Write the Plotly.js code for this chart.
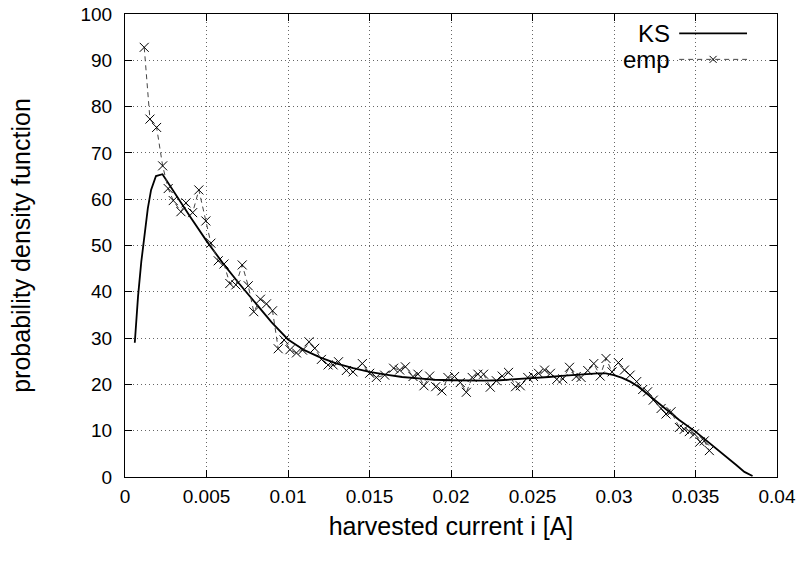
<!DOCTYPE html>
<html>
<head>
<meta charset="utf-8">
<script src="https://cdn.plot.ly/plotly-3.0.1.min.js"></script>
<style>
  html, body { margin: 0; padding: 0; background: #fff; }
  #chart { width: 808px; height: 561px; }
</style>
</head>
<body>
<div id="chart"></div>
<script>
// Kernel-smoothed (KS) density estimate of the harvested current
const ksCurrent = [0.0006, 0.0008, 0.001, 0.0012, 0.0014, 0.0016, 0.0019, 0.0023, 0.003, 0.004,
  0.005, 0.006, 0.007, 0.008, 0.009, 0.010, 0.011, 0.012, 0.013, 0.014, 0.015, 0.016, 0.017,
  0.018, 0.019, 0.020, 0.021, 0.022, 0.023, 0.024, 0.025, 0.026, 0.027, 0.028, 0.029, 0.0295,
  0.030, 0.0305, 0.031, 0.0315, 0.032, 0.033, 0.034, 0.035, 0.036, 0.037, 0.0375, 0.038, 0.0385];
const ksDensity = [29, 39, 46.5, 53, 58, 62, 65, 65.4, 61.5, 56.2,
  51, 46.2, 41.8, 37.6, 33.4, 29.7, 27.4, 25.8, 24.5, 23.5, 22.7, 22.1, 21.6,
  21.3, 21.0, 20.9, 20.8, 20.8, 20.9, 21.1, 21.3, 21.6, 21.9, 22.2, 22.4, 22.4,
  22.0, 21.4, 20.6, 19.5, 18.1, 15.3, 12.3, 9.8, 7.0, 4.1, 2.6, 1.1, 0.2];

// Empirical (histogram-based) density
const empCurrent = [0.00118, 0.00153, 0.00194, 0.00231, 0.00265, 0.00296, 0.00343, 0.00374, 0.00415, 0.00453,
  0.00496, 0.00527, 0.00572, 0.00607, 0.00643, 0.0068, 0.00719, 0.00756, 0.0079, 0.00831,
  0.00868, 0.00905, 0.0094, 0.00976, 0.01012, 0.01052, 0.01089, 0.01129, 0.01164, 0.01205,
  0.01246, 0.01277, 0.0131, 0.01358, 0.01399, 0.01456, 0.01501, 0.01542, 0.01593, 0.01648,
  0.01685, 0.0172, 0.01767, 0.01797, 0.01834, 0.01869, 0.01906, 0.01944, 0.01981, 0.02022,
  0.02057, 0.02094, 0.0213, 0.02165, 0.022, 0.02241, 0.02278, 0.02314, 0.02353, 0.02396,
  0.02425, 0.02471, 0.02506, 0.02537, 0.02574, 0.0261, 0.02649, 0.02686, 0.02727, 0.02768,
  0.02798, 0.02839, 0.02876, 0.02915, 0.02951, 0.02988, 0.03027, 0.03064, 0.03099, 0.03139,
  0.03176, 0.03206, 0.03241, 0.03289, 0.03319, 0.0335, 0.03401, 0.03431, 0.03462, 0.03493,
  0.03528, 0.03554, 0.03585];
const empDensity = [92.8, 77.3, 75.5, 67.2, 62.3, 59.7, 57.3, 59.2, 57.1, 62.0,
  55.3, 50.5, 46.7, 46.0, 41.8, 41.5, 45.8, 41.3, 35.7, 38.4,
  37.4, 35.9, 27.7, 29.6, 27.5, 26.8, 27.4, 29.2, 27.8, 25.4,
  24.2, 24.2, 24.9, 23.0, 22.7, 24.5, 22.4, 21.5, 22.0, 23.5,
  23.1, 23.8, 21.7, 22.2, 19.7, 21.8, 19.5, 18.6, 21.5, 21.7,
  20.4, 18.3, 21.5, 22.2, 22.2, 19.4, 20.8, 21.8, 22.6, 19.5,
  19.7, 21.5, 21.7, 22.4, 23.1, 22.4, 21.1, 21.2, 23.7, 21.7,
  21.5, 23.0, 24.5, 21.8, 25.6, 22.7, 24.7, 23.1, 22.0, 20.6,
  18.9, 18.4, 16.6, 14.8, 13.6, 14.1, 10.7, 10.3, 9.8, 9.3,
  7.6, 7.8, 5.7];

const xTicks = [0, 0.005, 0.01, 0.015, 0.02, 0.025, 0.03, 0.035, 0.04];
const yTicks = [0, 10, 20, 30, 40, 50, 60, 70, 80, 90, 100];
const seriesNames = ['KS', 'emp'];

const FONT = 'Liberation Sans, Arial, Helvetica, sans-serif';
const TICK_SIZE = 19;
const TITLE_SIZE = 25;
const KEY_SIZE = 24;

// Key placed inside the plot, top right: label on the left, sample on the right
const key = { labelRight: 0.839, sampleFrom: 0.850, sampleTo: 0.954, rowKS: 0.958, rowEmp: 0.902 };

const empLine = { color: '#444', width: 1, dash: '5px,4px' };

const traces = [
  {
    x: ksCurrent, y: ksDensity, name: seriesNames[0],
    type: 'scatter', mode: 'lines',
    line: { color: '#000', width: 1.8 },
    showlegend: false, hoverinfo: 'skip'
  },
  {
    x: empCurrent, y: empDensity, name: seriesNames[1],
    type: 'scatter', mode: 'lines+markers',
    line: empLine,
    marker: { symbol: 'x-thin-open', size: 9, color: '#000', line: { color: '#000', width: 1 } },
    showlegend: false, hoverinfo: 'skip'
  },
  // key samples on a hidden unit axis pair
  {
    x: [key.sampleFrom, key.sampleTo], y: [key.rowKS, key.rowKS],
    xaxis: 'x2', yaxis: 'y2', type: 'scatter', mode: 'lines',
    line: { color: '#000', width: 1.8 }, showlegend: false, hoverinfo: 'skip'
  },
  {
    x: [key.sampleFrom, key.sampleTo], y: [key.rowEmp, key.rowEmp],
    xaxis: 'x2', yaxis: 'y2', type: 'scatter', mode: 'lines',
    line: empLine, showlegend: false, hoverinfo: 'skip'
  },
  {
    x: [(key.sampleFrom + key.sampleTo) / 2], y: [key.rowEmp],
    xaxis: 'x2', yaxis: 'y2', type: 'scatter', mode: 'markers',
    marker: { symbol: 'x-thin-open', size: 7, color: '#000', line: { color: '#000', width: 1 } },
    showlegend: false, hoverinfo: 'skip'
  }
];

const axisCommon = {
  showline: true, linecolor: '#000', linewidth: 1, mirror: 'ticks',
  ticks: 'inside', ticklen: 7, tickwidth: 1, tickcolor: '#000',
  showgrid: true, gridcolor: '#666', gridwidth: 1, griddash: '1px,3px',
  zeroline: false,
  tickfont: { family: FONT, size: TICK_SIZE, color: '#000' }
};

const layout = {
  width: 808, height: 561,
  margin: { l: 125, r: 31, t: 14, b: 84 },
  paper_bgcolor: '#fff', plot_bgcolor: '#fff',
  font: { family: FONT, size: TICK_SIZE, color: '#000' },
  xaxis: Object.assign({}, axisCommon, {
    range: [0, 0.04], tickvals: xTicks, ticktext: xTicks.map(String),
    ticklabelstandoff: 2,
    title: { text: 'harvested current i [A]', font: { family: FONT, size: TITLE_SIZE }, standoff: 11 }
  }),
  yaxis: Object.assign({}, axisCommon, {
    range: [0, 100], tickvals: yTicks, ticktext: yTicks.map(String),
    ticklabelstandoff: 8,
    title: { text: 'probability density function', font: { family: FONT, size: TITLE_SIZE }, standoff: 42 }
  }),
  xaxis2: { overlaying: 'x', range: [0, 1], visible: false, fixedrange: true },
  yaxis2: { overlaying: 'y', range: [0, 1], visible: false, fixedrange: true },
  annotations: [
    { xref: 'paper', yref: 'paper', x: key.labelRight, y: key.rowKS, xanchor: 'right', yanchor: 'middle',
      text: seriesNames[0], showarrow: false, font: { family: FONT, size: KEY_SIZE, color: '#000' } },
    { xref: 'paper', yref: 'paper', x: key.labelRight, y: key.rowEmp, xanchor: 'right', yanchor: 'middle',
      text: seriesNames[1], showarrow: false, font: { family: FONT, size: KEY_SIZE, color: '#000' } }
  ],
  showlegend: false
};

Plotly.newPlot('chart', traces, layout, { staticPlot: true, displayModeBar: false });
</script>
</body>
</html>
